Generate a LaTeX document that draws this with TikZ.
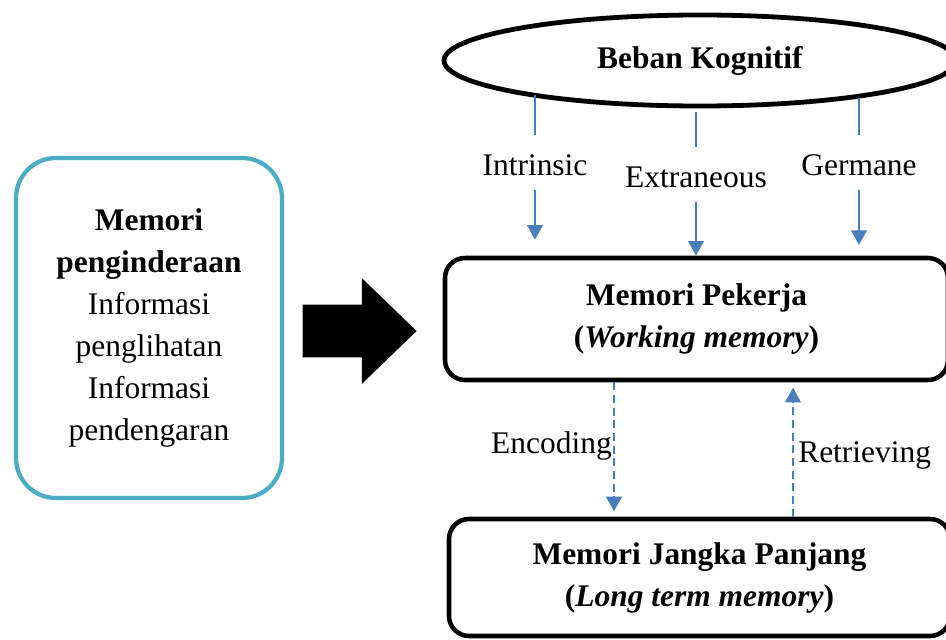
\documentclass[tikz,border=0pt]{standalone}
\usepackage{fontspec}
\setmainfont{Liberation Serif}
\usetikzlibrary{shapes.geometric,shapes.arrows,arrows.meta}
\definecolor{boxcyan}{HTML}{4BACC6}
\definecolor{arrowblue}{HTML}{4A7EBB}

\begin{document}
\begin{tikzpicture}[x=0.75pt, y=-0.75pt, font=\fontsize{23.6}{31.5}\selectfont,
                    blackbox/.style={draw, rounded corners=15pt, line width=3.4pt, align=center},
                    sensebox/.style={draw=boxcyan, rounded corners=30pt, line width=3.2pt, align=center},
                    loadnode/.style={draw, ellipse, line width=3.6pt},
                    cogline/.style={draw=arrowblue, line width=2pt},
                    cogarrow/.style={cogline, -{Triangle[length=11pt, width=11.5pt]}},
                    dasharrow/.style={cogarrow, dash pattern=on 6pt off 3.5pt},
                    lbl/.style={inner xsep=2pt, inner ysep=10pt}]
        \useasboundingbox (0,0) rectangle (946,639);
        \node[loadnode, minimum width=384pt, minimum height=68.25pt] (beban) at (700,60.5) {\textbf{Beban Kognitif}};
        \node[blackbox, minimum width=377.25pt, minimum height=91.5pt] (work) at (696.5,319) {\textbf{Memori Pekerja}\\\textbf{(\textit{Working memory})}};
        \node[blackbox, minimum width=375.75pt, minimum height=87.75pt] (long) at (699.5,577.5) {\textbf{Memori Jangka Panjang}\\\textbf{(\textit{Long term memory})}};
        \node[sensebox, minimum width=199.5pt, minimum height=255pt] (sense) at (149,328) {\textbf{Memori}\\\textbf{penginderaan}\\Informasi\\penglihatan\\Informasi\\pendengaran};
        \node[single arrow, fill=black, inner xsep=0pt, inner ysep=19.5pt, single arrow head extend=19.9pt,
              single arrow tip angle=88, minimum height=85.5pt, anchor=tip] (bigarrow) at (417,331) {};
        \node[lbl] (intr) at (535,165.5) {Intrinsic};
        \node[lbl] (extr) at (696,177.6) {Extraneous};
        \node[lbl] (germ) at (859,165.6) {Germane};
        \node[inner xsep=1.5pt, anchor=base east] (enc) at (614,453) {Encoding};
        \node[inner xsep=3.75pt, anchor=base west] (retr) at (793,462) {Retrieving};
        \draw[cogline, shorten >=5pt] (intr.north |- beban.191.9) -- (intr.north);
        \draw[cogline, shorten <=3pt, shorten >=5pt] (extr.north |- beban.south) -- (extr.north);
        \draw[cogline, shorten >=5pt] (germ.north |- beban.347.4) -- (germ.north);
        \draw[cogarrow, shorten >=12pt] (intr) -- (intr |- work.north);
        \draw[cogarrow] (extr) -- (extr |- work.north);
        \draw[cogarrow, shorten >=8pt] (germ) -- (germ |- work.north);
        \draw[dasharrow, shorten >=4pt] (enc.east |- work.south) -- (enc.east |- long.north);
        \draw[dasharrow, shorten >=4pt] (retr.west |- long.north) -- (retr.west |- work.south);
    \end{tikzpicture}
\end{document}
